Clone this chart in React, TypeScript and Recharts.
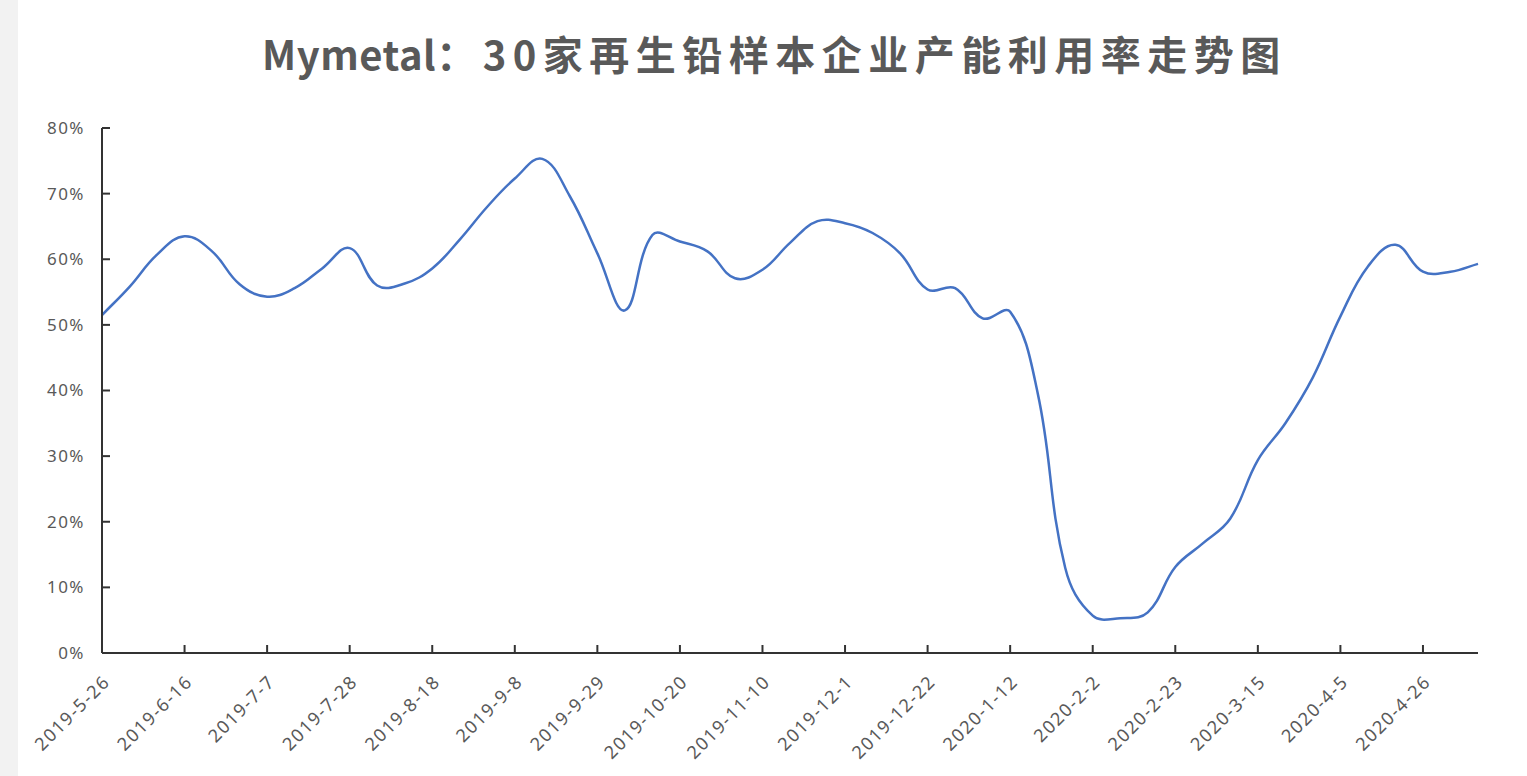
import React from 'react';
import { LineChart, Line, XAxis, YAxis } from 'recharts';

const WEEKS = [
  '2019-5-26', '2019-6-2', '2019-6-9', '2019-6-16', '2019-6-23', '2019-6-30',
  '2019-7-7', '2019-7-14', '2019-7-21', '2019-7-28', '2019-8-4', '2019-8-11',
  '2019-8-18', '2019-8-25', '2019-9-1', '2019-9-8', '2019-9-15', '2019-9-22',
  '2019-9-29', '2019-10-6', '2019-10-13', '2019-10-20', '2019-10-27', '2019-11-3',
  '2019-11-10', '2019-11-17', '2019-11-24', '2019-12-1', '2019-12-8', '2019-12-15',
  '2019-12-22', '2019-12-29', '2020-1-5', '2020-1-12', '2020-1-19', '2020-1-26',
  '2020-2-2', '2020-2-9', '2020-2-16', '2020-2-23', '2020-3-1', '2020-3-8',
  '2020-3-15', '2020-3-22', '2020-3-29', '2020-4-5', '2020-4-12', '2020-4-19',
  '2020-4-26', '2020-5-3', '2020-5-10',
];

// 产能利用率 (%)
const UTILIZATION = [
  51.5, 55.8, 60.7, 63.5, 61.2, 56.2, 54.3, 55.6, 58.6, 61.7,
  56.0, 56.3, 58.6, 63.0, 68.0, 72.3, 75.3, 69.6, 60.9, 52.2,
  63.7, 62.7, 61.2, 57.1, 58.4, 62.5, 65.8, 65.5, 64.0, 60.9,
  55.4, 55.6, 51.0, 52.0, 39.6, 13.0, 5.7, 5.3, 6.2, 13.1,
  16.7, 20.5, 29.4, 35.0, 42.0, 51.3, 58.9, 62.2, 58.1, 58.1,
  59.3,
];

const Y_TICKS = [0, 10, 20, 30, 40, 50, 60, 70, 80];

const TITLE_LATIN = 'Mymetal';
const TITLE_REST = '：30家再生铅样本企业产能利用率走势图';

const data = WEEKS.map((week, i) => ({ week, value: UTILIZATION[i] }));

const AXIS_COLOR = '#333';
const TEXT_COLOR = '#595959';
const TICK_FONT = '"Noto Sans", "DejaVu Sans", sans-serif';

// Excel-like smoothed line: bezier through the points, control arms scaled by
// neighbouring segment lengths so short segments don't overshoot much
function smoothCurve(context: any) {
  let pts: number[][] = [];
  const t = 0.4;
  return {
    areaStart() {},
    areaEnd() {},
    lineStart() { pts = []; },
    point(x: number, y: number) { pts.push([+x, +y]); },
    lineEnd() {
      const n = pts.length;
      if (!n) return;
      const cin: number[][] = [];
      const cout: number[][] = [];
      for (let i = 0; i < n; i++) {
        const p0 = pts[i - 1] || pts[i];
        const p1 = pts[i];
        const p2 = pts[i + 1] || pts[i];
        const d01 = Math.hypot(p1[0] - p0[0], p1[1] - p0[1]);
        const d12 = Math.hypot(p2[0] - p1[0], p2[1] - p1[1]);
        const sum = d01 + d12 || 1;
        const fa = (t * d01) / sum;
        const fb = (t * d12) / sum;
        const dx = p2[0] - p0[0];
        const dy = p2[1] - p0[1];
        cin.push([p1[0] - fa * dx, p1[1] - fa * dy]);
        cout.push([p1[0] + fb * dx, p1[1] + fb * dy]);
      }
      context.moveTo(pts[0][0], pts[0][1]);
      for (let i = 0; i < n - 1; i++) {
        context.bezierCurveTo(cout[i][0], cout[i][1], cin[i + 1][0], cin[i + 1][1], pts[i + 1][0], pts[i + 1][1]);
      }
    },
  };
}

function DateTick({ x, y, payload }: any) {
  const tx = x + 9;
  const ty = y + 30;
  return (
    <g>
      <line x1={x} x2={x} y1={y} y2={y - 8} stroke={AXIS_COLOR} strokeWidth={2} />
      <text x={tx} y={ty} textAnchor="end" fill={TEXT_COLOR} fontSize={18} letterSpacing={1.5}
        fontFamily={TICK_FONT} transform={`rotate(-45 ${tx} ${ty})`}>
        {payload.value}
      </text>
    </g>
  );
}

function PctTick({ x, y, payload }: any) {
  return (
    <g>
      <line x1={x} x2={x + 8} y1={y} y2={y} stroke={AXIS_COLOR} strokeWidth={2} />
      <text x={x - 17} y={y} dy="0.35em" textAnchor="end" fill={TEXT_COLOR}
        fontSize={17} letterSpacing={1.5} fontFamily={TICK_FONT}>
        {`${payload.value}%`}
      </text>
    </g>
  );
}

export default function App() {
  return (
    <div style={{ position: 'absolute', left: 0, top: 0, width: 1527, height: 776, background: '#fff' }}>
      <div style={{ position: 'absolute', left: 0, top: 0, width: 18, height: 776, background: '#f2f2f2' }} />
      <div style={{
        position: 'absolute', left: 0, top: 26, width: 1527, paddingLeft: 22, boxSizing: 'border-box',
        textAlign: 'center', fontFamily: '"Noto Sans CJK SC", sans-serif', fontWeight: 700,
        fontSize: 40, lineHeight: '54px', color: TEXT_COLOR, whiteSpace: 'nowrap',
      }}>
        <span style={{ letterSpacing: 0.5 }}>{TITLE_LATIN}</span>
        <span style={{ letterSpacing: 6.5 }}>{TITLE_REST}</span>
      </div>
      <LineChart width={1527} height={776} data={data}
        margin={{ top: 128, right: 49, bottom: 3, left: 0 }}>
        <XAxis dataKey="week" interval={2} height={120} tickSize={0} tickMargin={0}
          tickLine={false} axisLine={{ stroke: AXIS_COLOR, strokeWidth: 2 }} tick={<DateTick />} />
        <YAxis domain={[0, 80]} ticks={Y_TICKS} width={102} tickSize={0} tickMargin={0}
          tickLine={false} axisLine={{ stroke: AXIS_COLOR, strokeWidth: 2 }} tick={<PctTick />} />
        <Line dataKey="value" type={smoothCurve as any} stroke="#4472C4" strokeWidth={2.5}
          dot={false} activeDot={false} isAnimationActive={false} />
      </LineChart>
    </div>
  );
}
